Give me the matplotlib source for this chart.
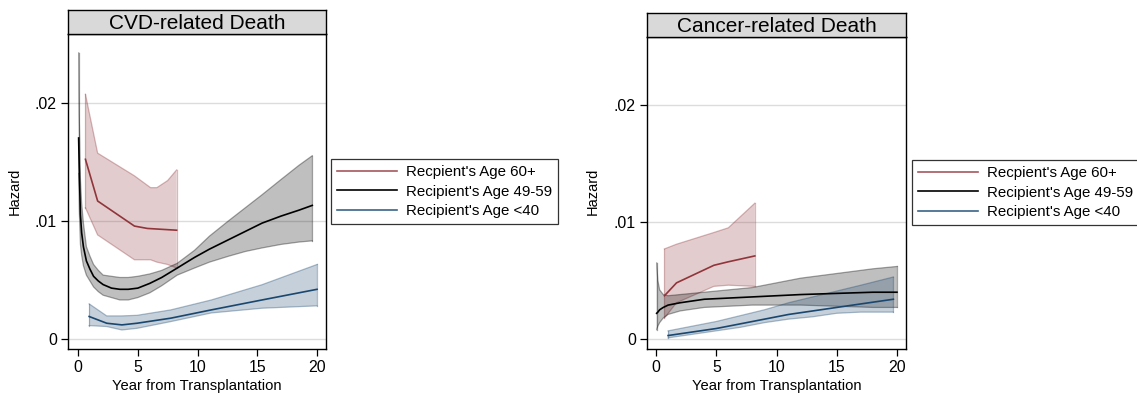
import numpy as np
import matplotlib.pyplot as plt
from matplotlib.ticker import FuncFormatter

plt.rcParams['font.family'] = ['Liberation Sans', 'DejaVu Sans']

# ---- data ----
titles = ['CVD-related Death', 'Cancer-related Death']
labels = ["Recpient's Age 60+", "Recipient's Age 49-59", "Recipient's Age <40"]

# CVD panel
cvd_old_x = [0.62, 1.64, 4.72, 5.8, 8.25]
cvd_old_y = [0.0152, 0.01167, 0.00955, 0.00935, 0.0092]
cvd_old_x_ci = [0.62, 1.64, 4.72, 6.07, 6.6, 7.5, 8.25]
cvd_old_hi = [0.0207, 0.01572, 0.0138, 0.0128, 0.0128, 0.0134, 0.0143]
cvd_old_lo = [0.0111, 0.0088, 0.0067, 0.0067, 0.0065, 0.0063, 0.0060]

cvd_mid_x = [0.05, 0.1, 0.2, 0.3, 0.45, 0.7, 1.0, 1.3, 1.7, 2.1, 2.8, 3.5, 4.2,
             5.0, 6.0, 7.0, 8.3, 9.75, 11.0, 12.6, 14.0, 15.4, 17.0, 18.5, 19.6]
cvd_mid_y = [0.0170, 0.0145, 0.0105, 0.0090, 0.0078, 0.0066, 0.0059, 0.0053, 0.0049,
             0.0046, 0.0043, 0.0042, 0.0042, 0.0043, 0.0047, 0.0052, 0.0060, 0.0069,
             0.0076, 0.0084, 0.0091, 0.0098, 0.0104, 0.0109, 0.0113]
cvd_mid_hi = [0.0242, 0.0190, 0.0135, 0.0115, 0.0098, 0.0078, 0.0070, 0.0063, 0.0058,
              0.0054, 0.0053, 0.0052, 0.0052, 0.0053, 0.0055, 0.0058, 0.0064, 0.0075,
              0.0087, 0.0100, 0.0111, 0.0122, 0.0135, 0.0147, 0.0155]
cvd_mid_lo = [0.0140, 0.0110, 0.0080, 0.0071, 0.0062, 0.0054, 0.0049, 0.0044, 0.0040,
              0.0037, 0.0035, 0.0033, 0.0033, 0.0035, 0.0039, 0.0045, 0.0054, 0.0060,
              0.0065, 0.0070, 0.0074, 0.0077, 0.0080, 0.0082, 0.0083]

cvd_young_x = [0.93, 2.4, 3.67, 4.94, 7.77, 11.16, 15.4, 20.0]
cvd_young_y = [0.0019, 0.00133, 0.00119, 0.00133, 0.00176, 0.00246, 0.0033, 0.0042]
cvd_young_hi = [0.00297, 0.00195, 0.00195, 0.00200, 0.00246, 0.0033, 0.00459, 0.0063]
cvd_young_lo = [0.00113, 0.00105, 0.00076, 0.0009, 0.00147, 0.0022, 0.0026, 0.0028]

# Cancer panel
can_old_x = [0.7, 1.7, 4.8, 6.0, 8.2]
can_old_y = [0.0037, 0.0048, 0.0063, 0.0066, 0.0071]
can_old_hi = [0.0077, 0.0081, 0.0091, 0.0095, 0.0116]
can_old_lo = [0.0018, 0.0031, 0.0045, 0.0046, 0.0045]

can_mid_x = [0.05, 0.15, 0.3, 0.6, 1, 2, 4, 6, 8, 10, 12, 15, 18, 20]
can_mid_y = [0.0022, 0.0023, 0.0025, 0.0027, 0.0029, 0.0031, 0.0034, 0.0035, 0.0036,
             0.0037, 0.0038, 0.0039, 0.0040, 0.0040]
can_mid_hi = [0.0065, 0.0050, 0.0042, 0.0038, 0.0037, 0.0038, 0.0040, 0.0042, 0.0044,
              0.0048, 0.0052, 0.0056, 0.0060, 0.0062]
can_mid_lo = [0.0008, 0.0011, 0.0014, 0.0018, 0.0021, 0.0024, 0.0027, 0.0028, 0.0029,
              0.0029, 0.0029, 0.0028, 0.0027, 0.0027]

can_young_x = [1, 3, 5, 7, 9, 11, 13, 15, 17, 19.7]
can_young_y = [0.0003, 0.0006, 0.0009, 0.0013, 0.0017, 0.0021, 0.0024, 0.0027, 0.0030, 0.0034]
can_young_hi = [0.0007, 0.0011, 0.0015, 0.0020, 0.0025, 0.0031, 0.0036, 0.0041, 0.0046, 0.0053]
can_young_lo = [0.0001, 0.0004, 0.0007, 0.0010, 0.0014, 0.0017, 0.0019, 0.0022, 0.0023, 0.0023]

x_ticks = [0, 5, 10, 15, 20]
y_ticks = [0, 0.01, 0.02]

maroon = '#90353b'
black = '#000000'
navy = '#1a476f'

W, H = 1137, 396
fig = plt.figure(figsize=(W / 100, H / 100), dpi=100)


def px_box(x0, y0, x1, y1):
    # pixel box (top-left origin) -> figure fraction rect
    return [x0 / W, 1 - y1 / H, (x1 - x0) / W, (y1 - y0) / H]


def band(ax, x, lo, hi, color):
    ax.fill_between(x, lo, hi, facecolor=color, alpha=0.25, edgecolor='none', zorder=2)
    ax.plot(x, lo, color=color, alpha=0.35, lw=0.9, zorder=2)
    ax.plot(x, hi, color=color, alpha=0.35, lw=0.9, zorder=2)
    ax.plot([x[0], x[0]], [lo[0], hi[0]], color=color, alpha=0.35, lw=0.9, zorder=2)
    ax.plot([x[-1], x[-1]], [lo[-1], hi[-1]], color=color, alpha=0.35, lw=0.9, zorder=2)


def panel(rect, strip, title, xlim, old, mid, young, hz_x):
    ax = fig.add_axes(rect)
    band(ax, old[3], old[5], old[4], maroon)
    band(ax, mid[0], mid[3], mid[2], black)
    band(ax, young[0], young[3], young[2], navy)
    ax.plot(old[0], old[1], color=maroon, lw=1.2, zorder=3)
    ax.plot(mid[0], mid[1], color=black, lw=1.2, zorder=3)
    ax.plot(young[0], young[1], color=navy, lw=1.2, zorder=3)

    ax.set_xlim(*xlim)
    ax.set_ylim(-0.00085, 0.0258)
    ax.set_xticks(x_ticks)
    ax.set_yticks(y_ticks)
    ax.yaxis.set_major_formatter(FuncFormatter(
        lambda v, p: '0' if v == 0 else ('%.2f' % v).lstrip('0')))
    ax.tick_params(labelsize=11.4, direction='out', length=5, width=0.9, pad=3)
    ax.grid(axis='y', color='#dcdcdc', lw=1.0, zorder=0)
    for s in ax.spines.values():
        s.set_linewidth(1.0)
    ax.set_xlabel('Year from Transplantation', fontsize=10.6, labelpad=3)
    fig.text(hz_x / W, 0.516, 'Hazard', rotation=90, fontsize=10.5,
             ha='center', va='center')

    sax = fig.add_axes(strip)
    sax.set_facecolor('#d9d9d9')
    sax.set_xticks([])
    sax.set_yticks([])
    for s in sax.spines.values():
        s.set_linewidth(1.0)
    sax.text(0.5, 0.45, title, fontsize=15, ha='center', va='center',
             transform=sax.transAxes)
    return ax


ax1 = panel(px_box(68, 34, 326, 349), px_box(68, 10, 326, 34), titles[0], (-0.84, 20.75),
            (cvd_old_x, cvd_old_y, None, cvd_old_x_ci, cvd_old_hi, cvd_old_lo),
            (cvd_mid_x, cvd_mid_y, cvd_mid_hi, cvd_mid_lo),
            (cvd_young_x, cvd_young_y, cvd_young_hi, cvd_young_lo), 15)
ax2 = panel(px_box(647, 37, 906, 349), px_box(647, 13, 906, 37), titles[1], (-0.75, 20.75),
            (can_old_x, can_old_y, None, can_old_x, can_old_hi, can_old_lo),
            (can_mid_x, can_mid_y, can_mid_hi, can_mid_lo),
            (can_young_x, can_young_y, can_young_hi, can_young_lo), 593)

handles = [plt.Line2D([], [], color=c, lw=1.2) for c in ('#a5585e', black, '#3a6488')]
for bx, by in [(331, 159), (912, 160)]:
    leg = fig.legend(handles, labels, loc='upper left', bbox_to_anchor=(bx / W, 1 - by / H),
                     fontsize=10.8, frameon=True, fancybox=False, handlelength=4,
                     handletextpad=0.6, borderpad=0.4, labelspacing=0.37,
                     borderaxespad=0)
    leg.get_frame().set_edgecolor('black')
    leg.get_frame().set_linewidth(0.9)

fig.savefig('out.png', dpi=100)
